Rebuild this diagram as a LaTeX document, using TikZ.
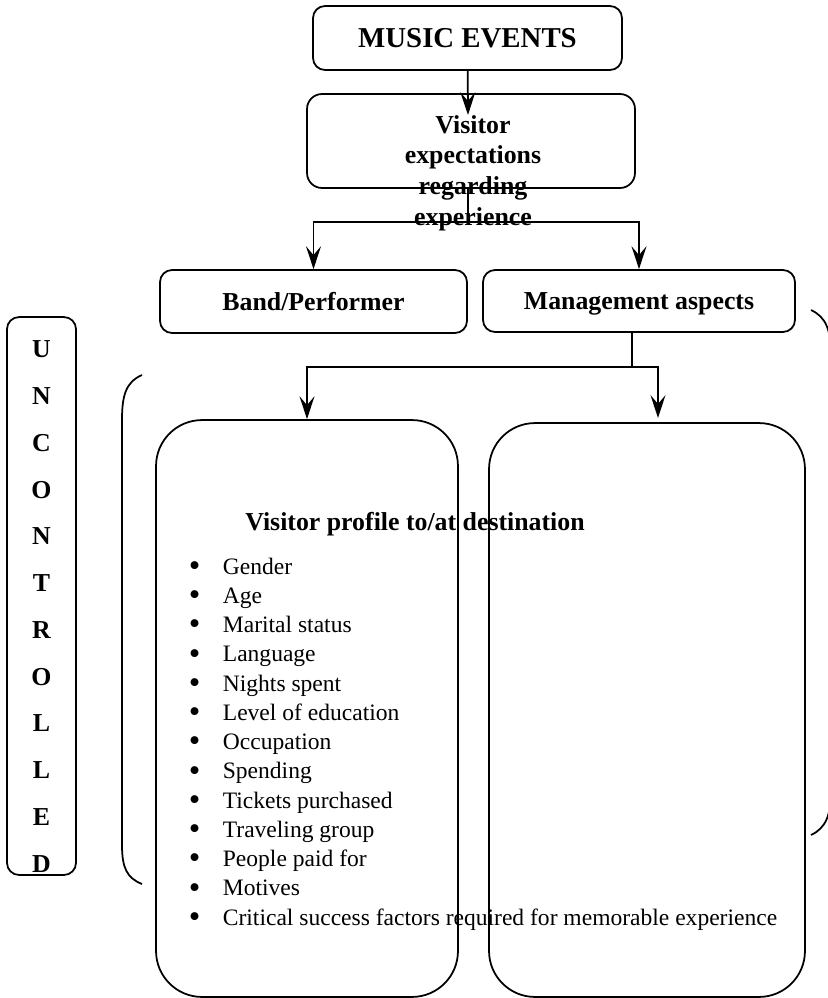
\documentclass[tikz,border=0pt]{standalone}
\usepackage{fontspec}
\setmainfont{Liberation Serif}
\usetikzlibrary{arrows.meta}

\begin{document}
\begin{tikzpicture}[x=0.02cm,y=-0.02cm,line width=1pt,
  box/.style={draw,rounded corners=0.24cm,inner sep=0pt},
  big/.style={draw,rounded corners=0.92cm,inner sep=0pt},
  head/.style={font=\fontsize{14.7}{17}\selectfont\bfseries,align=center,inner sep=0pt},
  item/.style={font=\fontsize{13.4}{16}\selectfont,anchor=base west,inner sep=0pt,
    execute at begin node={\makebox[0.68cm][l]{\raisebox{-0.1em}{\scalebox{1.4}{\textbullet}}}}},
  arr/.style={-{Stealth[length=13pt,width=8.5pt,inset=5pt]}}]
\clip (0,0) rectangle (828,998);
\path node (music) at (467.5,38) [box,minimum width=6.18cm,minimum height=1.28cm,text depth=0pt,font=\fontsize{16.4}{19}\selectfont\bfseries] {MUSIC EVENTS}
node (expect) at (471,141) [box,rounded corners=0.3cm,minimum width=6.56cm,minimum height=1.88cm] {}
node (exptext) at (473,225) [head,anchor=base,font=\fontsize{14.7}{17.4}\selectfont\bfseries] {Visitor\\expectations\\regarding\\experience}
node (band) at (313.5,301.5) [box,head,text depth=0pt,minimum width=6.14cm,minimum height=1.26cm] {Band/Performer}
node (mgmt) at (639,301) [box,head,text depth=0pt,minimum width=6.24cm,minimum height=1.24cm] {Management aspects}
node (unctl) at (41.5,596) [box,minimum width=1.38cm,minimum height=11.16cm] {}
node (letters) at (41.5,872) [head,anchor=base,font=\fontsize{14.7}{26.6}\selectfont\bfseries] {U\\N\\C\\O\\N\\T\\R\\O\\L\\L\\E\\D}
node (profile) at (307,708.5) [big,minimum width=6.04cm,minimum height=11.54cm] {}
node (other) at (647,710) [big,minimum width=6.32cm,minimum height=11.48cm] {}
node (title) at (415,530) [head,anchor=base] {Visitor profile to/at destination};

% visitor profile items
\path node (p1) at (188,574) [item] {Gender}
node (p2) at (188,603.25) [item] {Age}
node (p3) at (188,632.5) [item] {Marital status}
node (p4) at (188,661.75) [item] {Language}
node (p5) at (188,691) [item] {Nights spent}
node (p6) at (188,720.25) [item] {Level of education}
node (p7) at (188,749.5) [item] {Occupation}
node (p8) at (188,778.75) [item] {Spending}
node (p9) at (188,808) [item] {Tickets purchased}
node (p10) at (188,837.25) [item] {Traveling group}
node (p11) at (188,866.5) [item] {People paid for}
node (p12) at (188,895.75) [item] {Motives}
node (p13) at (188,925) [item] {Critical success factors required for memorable experience};

\coordinate (t1) at (468,115);
\coordinate (j1) at (468,222);
\coordinate (j2) at (632,367);
\coordinate (t2) at (658,418);
\draw[arr] (music) -- (t1);
\draw (j1 |- expect.south) -- (j1);
\draw[arr] (j1) -| (band.north);
\draw[arr] (j1) -| (mgmt.north);
\draw (j2 |- mgmt.south) -- (j2);
\draw[arr] (j2) -| (profile.north);
\draw[arr] (j2) -| (t2);

% brackets
\draw (142,375) .. controls (126,382) and (122,395) .. (122,420) -- (122,845) .. controls (122,868) and (127,878) .. (142,884);
\draw (811,310) .. controls (826,317) and (831,330) .. (831,355) -- (831,790) .. controls (831,815) and (826,828) .. (811,835);
\end{tikzpicture}
\end{document}
